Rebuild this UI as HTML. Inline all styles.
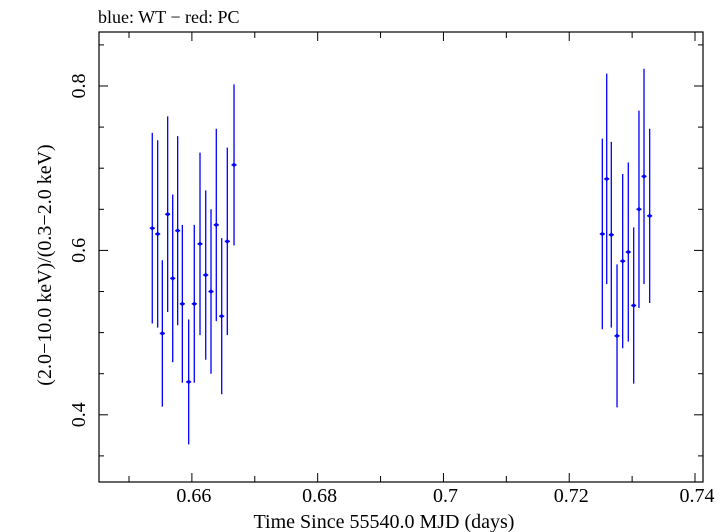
<!DOCTYPE html>
<html><head><meta charset="utf-8"><style>
html,body{margin:0;padding:0;background:#fff;}
svg{display:block;font-family:"Liberation Serif",serif;}
</style></head><body>
<svg id="chart" width="728" height="532" viewBox="0 0 728 532">
<text x="98" y="23" font-size="18">blue: WT − red: PC</text>
<rect x="99" y="32" width="604" height="450" fill="none" stroke="#000" stroke-width="1.2"/>
<g id="axes"></g>
<g id="series"></g>
<text x="384" y="528" font-size="20" text-anchor="middle">Time Since 55540.0 MJD (days)</text>
<text transform="translate(51,265) rotate(-90)" font-size="20" text-anchor="middle">(2.0−10.0 keV)/(0.3−2.0 keV)</text>
</svg>
<script>
const times = [0.6537,0.65456,0.6553,0.65615,0.65695,0.65774,0.65848,0.65949,0.66038,0.66129,0.6622,0.66304,0.66388,0.66474,0.66563,0.6667,
0.72526,0.72596,0.72669,0.7276,0.7285,0.72939,0.73025,0.73109,0.73189,0.73279];
const ratios = [0.627,0.620,0.499,0.644,0.566,0.624,0.535,0.440,0.535,0.608,0.570,0.550,0.631,0.520,0.611,0.704,
0.620,0.687,0.619,0.496,0.587,0.598,0.533,0.650,0.690,0.642];
const errors = [0.116,0.114,0.089,0.119,0.102,0.115,0.096,0.076,0.096,0.111,0.103,0.100,0.117,0.095,0.114,0.098,
0.116,0.128,0.113,0.087,0.106,0.109,0.095,0.120,0.131,0.106];
const xTickLabels = ["0.66","0.68","0.7","0.72","0.74"];
const xTickValues = [0.66,0.68,0.70,0.72,0.74];
const yTickLabels = ["0.4","0.6","0.8"];
const yTickValues = [0.4,0.6,0.8];
const timeHalfWidth = 0.0004;

const NS="http://www.w3.org/2000/svg";
function xs(t){return 129+(t-0.65)*6289;}
function ys(v){return 86+(0.8-v)*822;}
function mk(tag,attrs,parent){const e=document.createElementNS(NS,tag);for(const k in attrs)e.setAttribute(k,attrs[k]);parent.appendChild(e);return e;}
const axes=document.getElementById('axes');
const series=document.getElementById('series');
for(let i=0;i<=9;i++){
  const t=0.65+i*0.01; const x=xs(t); const major=(i%2===1); const L=major?9:6;
  const a=mk('line',{x1:x,x2:x,y1:482,y2:482-L,stroke:'#000','stroke-width':1},axes);
  
  
  const b=mk('line',{x1:x,x2:x,y1:32,y2:32+L,stroke:'#000','stroke-width':1},axes);
  
  
}
xTickValues.forEach((v,i)=>{
  const t=mk('text',{x:xs(v)+2,y:502,'font-size':20,'text-anchor':'middle'},axes);
  t.textContent=xTickLabels[i];
  
  
});
for(let v=0.35;v<=0.851;v+=0.05){
  const y=ys(v); if(y<32||y>482)continue;
  const major=Math.abs(Math.round(v*10)-v*10)<1e-6 && Math.round(v*10)%2===0; const L=major?9:5;
  const a=mk('line',{x1:99,x2:99+L,y1:y,y2:y,stroke:'#000','stroke-width':1},axes);
  
  
  const b=mk('line',{x1:703,x2:703-L,y1:y,y2:y,stroke:'#000','stroke-width':1},axes);
  
  
}
yTickValues.forEach((v,i)=>{
  const t=mk('text',{transform:`translate(85,${ys(v)}) rotate(-90)`,'font-size':20,'text-anchor':'middle'},axes);
  t.textContent=yTickLabels[i];
  
  
});
times.forEach((t,i)=>{
  const x=xs(t), y=ys(ratios[i]);
  const g=mk('g',{},series);
  
  
  mk('line',{x1:x,x2:x,y1:ys(ratios[i]+errors[i]),y2:ys(ratios[i]-errors[i]),stroke:'#0000ff','stroke-width':1.3},g);
  mk('line',{x1:xs(t-timeHalfWidth),x2:xs(t+timeHalfWidth),y1:y,y2:y,stroke:'#0000ff','stroke-width':1.5},g);
  mk('path',{d:`M${x-2.5},${y}L${x},${y-2.5}L${x+2.5},${y}L${x},${y+2.5}Z`,fill:'#0000ff'},g);
});
</script>
</body></html>
